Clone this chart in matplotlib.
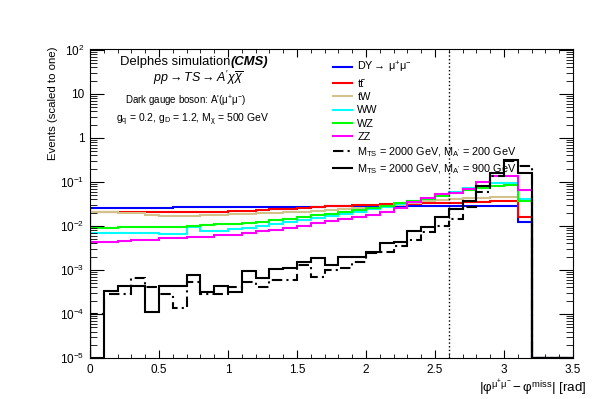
import numpy as np
import matplotlib
matplotlib.use('Agg')
import matplotlib.pyplot as plt
from matplotlib.ticker import MultipleLocator, LogLocator, FixedLocator, FixedFormatter, NullFormatter

plt.rcParams['font.family'] = ['Liberation Sans', 'DejaVu Sans']
plt.rcParams['mathtext.fontset'] = 'custom'
plt.rcParams['mathtext.rm'] = 'Liberation Sans'
plt.rcParams['mathtext.it'] = 'Liberation Sans:italic'
plt.rcParams['mathtext.bf'] = 'Liberation Sans:bold'
plt.rcParams['mathtext.default'] = 'regular'

# bins of 0.1 rad from 0 to 3.5
edges = np.round(np.arange(0, 3.55, 0.1), 2)

# background shapes (normalised to one)
dy = [0.026, 0.026, 0.026, 0.026, 0.026, 0.026, 0.0265, 0.0265, 0.0265, 0.027,
      0.027, 0.027, 0.027, 0.0275, 0.0275, 0.0275, 0.0275, 0.028, 0.028, 0.028,
      0.028, 0.028, 0.028, 0.0285, 0.0285, 0.0285, 0.0285, 0.0285, 0.0285, 0.0285,
      0.0285, 0.012, 0, 0, 0]
ttbar = [0.0205, 0.0205, 0.0205, 0.0205, 0.0205, 0.0205, 0.0205, 0.021, 0.021, 0.021,
         0.022, 0.022, 0.0235, 0.024, 0.0245, 0.026, 0.027, 0.028, 0.029, 0.030,
         0.030, 0.031, 0.032, 0.032, 0.033, 0.033, 0.034, 0.035, 0.035, 0.036,
         0.036, 0.016, 0, 0, 0]
tw = [0.021, 0.021, 0.0195, 0.0195, 0.018, 0.017, 0.017, 0.017, 0.0175, 0.018,
      0.019, 0.019, 0.0195, 0.020, 0.021, 0.021, 0.022, 0.023, 0.024, 0.025,
      0.026, 0.028, 0.030, 0.033, 0.036, 0.039, 0.041, 0.043, 0.044, 0.046,
      0.046, 0.037, 0, 0, 0]
ww = [0.0068, 0.0068, 0.0070, 0.0070, 0.0068, 0.0066, 0.0066, 0.0093, 0.0078, 0.0078,
      0.0085, 0.0088, 0.010, 0.011, 0.012, 0.0135, 0.015, 0.017, 0.019, 0.021,
      0.024, 0.027, 0.031, 0.036, 0.042, 0.050, 0.060, 0.072, 0.081, 0.094,
      0.097, 0.042, 0, 0, 0]
wz = [0.0088, 0.0088, 0.0093, 0.0093, 0.0093, 0.0097, 0.0097, 0.0102, 0.0105, 0.011,
      0.011, 0.0115, 0.0125, 0.0135, 0.0145, 0.016, 0.0175, 0.019, 0.021, 0.023,
      0.025, 0.028, 0.033, 0.037, 0.042, 0.048, 0.057, 0.066, 0.074, 0.081,
      0.085, 0.036, 0, 0, 0]
zz = [0.0044, 0.0044, 0.0045, 0.0048, 0.0048, 0.0053, 0.0053, 0.0056, 0.0056, 0.0062,
      0.0062, 0.0070, 0.0075, 0.0081, 0.0091, 0.0098, 0.0114, 0.0128, 0.0142, 0.0158,
      0.0176, 0.0205, 0.026, 0.035, 0.043, 0.054, 0.057, 0.068, 0.100, 0.140,
      0.140, 0.064, 0, 0, 0]

# signal shapes, M_TS = 2000 GeV
sig200 = [1.0e-4, 2.8e-4, 2.8e-4, 6.7e-4, 4.0e-4, 2.8e-4, 1.35e-4, 5.4e-4, 2.8e-4, 2.8e-4,
          4.0e-4, 5.4e-4, 4.2e-4, 5.8e-4, 5.8e-4, 1.3e-3, 6.8e-4, 1.0e-3, 1.09e-3, 1.55e-3,
          2.47e-3, 2.6e-3, 3.5e-3, 4.7e-3, 7.4e-3, 9.9e-3, 1.42e-2, 2.75e-2, 6.0e-2, 0.138,
          0.30, 0.235, 0, 0, 0]
sig900 = [0, 3.3e-4, 4.4e-4, 4.4e-4, 1.13e-4, 4.4e-4, 4.4e-4, 7.7e-4, 3.2e-4, 4.4e-4,
          3.2e-4, 9.6e-4, 6.7e-4, 1.05e-3, 1.1e-3, 1.5e-3, 1.84e-3, 1.3e-3, 1.94e-3, 1.94e-3,
          2.5e-3, 4.0e-3, 4.3e-3, 7.5e-3, 9.5e-3, 1.6e-2, 2.4e-2, 3.6e-2, 8.1e-2, 0.163,
          0.32, 0.157, 0, 0, 0]

ymin, ymax = 1e-5, 1.05e2

fig = plt.figure(figsize=(6.02, 3.99), dpi=100)
ax = fig.add_axes([90 / 602, 1 - 358 / 399, 483 / 602, 309 / 399])

bkgs = [(dy, '#0000ff', r'DY$\rightarrow\,\mu^{+}\mu^{-}$'),
        (ttbar, '#ff0000', 'tt\u0304'),
        (tw, '#d2c38c', 'tW'),
        (ww, '#00ffff', 'WW'),
        (wz, '#00ff00', 'WZ'),
        (zz, '#ff00ff', 'ZZ')]
for vals, col, lab in bkgs:
    ax.stairs(np.clip(vals, ymin, None), edges, color=col, lw=1.5, label=lab)

ax.stairs(np.clip(sig200, ymin, None), edges, color='black', lw=1.5,
          ls=(0, (5, 2, 1, 2)),
          label=r'$M_{TS}$ = 2000 GeV, $M_{A^{\prime}}$ = 200 GeV')
ax.stairs(np.clip(sig900, ymin, None), edges, color='black', lw=1.5,
          label=r'$M_{TS}$ = 2000 GeV, $M_{A^{\prime}}$ = 900 GeV')

ax.axvline(2.6, color='black', ls=':', lw=1)

ax.set_xlim(0, 3.5)
ax.set_yscale('log')
ax.set_ylim(ymin, ymax)

ax.xaxis.set_major_locator(MultipleLocator(0.5))
ax.xaxis.set_minor_locator(MultipleLocator(0.1))
ax.xaxis.set_major_formatter(matplotlib.ticker.FuncFormatter(lambda v, p: '%g' % v))
ax.yaxis.set_major_locator(FixedLocator([1e-5, 1e-4, 1e-3, 1e-2, 1e-1, 1, 10, 100]))
ax.yaxis.set_major_formatter(FixedFormatter(['$10^{-5}$', '$10^{-4}$', '$10^{-3}$', '$10^{-2}$',
                                             '$10^{-1}$', '1', '10', '$10^{2}$']))
ax.yaxis.set_minor_locator(LogLocator(base=10, subs=np.arange(2, 10), numticks=20))
ax.yaxis.set_minor_formatter(NullFormatter())
ax.tick_params(which='both', direction='in', top=True, right=True, labelsize=8.5)
ax.tick_params(axis='x', which='major', length=6, pad=4)
ax.tick_params(axis='x', which='minor', length=3)
ax.tick_params(axis='y', which='major', length=10, pad=4)
ax.tick_params(axis='y', which='minor', length=5)

fig.text(53 / 602, 1 - 46 / 399, 'Events (scaled to one)', rotation=90,
         ha='center', va='top', fontsize=8.2)
fig.text(586 / 602, 1 - 388 / 399,
         r'$|\varphi^{\mu^{+}\mu^{-}} - \varphi^{\rm miss}|$ [rad]',
         ha='right', va='center', fontsize=9.6)

t1 = fig.text(120 / 602, 1 - 62 / 399, 'Delphes simulation', ha='left', va='center', fontsize=9.4)
ax.annotate('(CMS)', xy=(1, 0.5), xycoords=t1, ha='left', va='center',
            fontsize=9.4, fontweight='bold', fontstyle='italic')
fig.text(198 / 602, 1 - 78 / 399,
         r'$\mathit{pp} \rightarrow \mathit{TS} \rightarrow \mathit{A^{\prime}\chi\overline{\chi}}$',
         ha='center', va='center', fontsize=9)
fig.text(186 / 602, 1 - 101 / 399, r"Dark gauge boson: A'($\mu^{+}\mu^{-}$)",
         ha='center', va='center', fontsize=7)
fig.text(193 / 602, 1 - 120 / 399,
         r'$g_{q}$ = 0.2, $g_{D}$ = 1.2, $M_{\chi}$ = 500 GeV',
         ha='center', va='center', fontsize=7.5)

ax.legend(loc='upper left', bbox_to_anchor=(333 / 602, 1 - 60 / 399),
          bbox_transform=fig.transFigure, frameon=False, fontsize=7.8,
          handlelength=1.75, handletextpad=0.5, labelspacing=0.31,
          borderpad=0, borderaxespad=0)

fig.savefig('out.png', dpi=100)
